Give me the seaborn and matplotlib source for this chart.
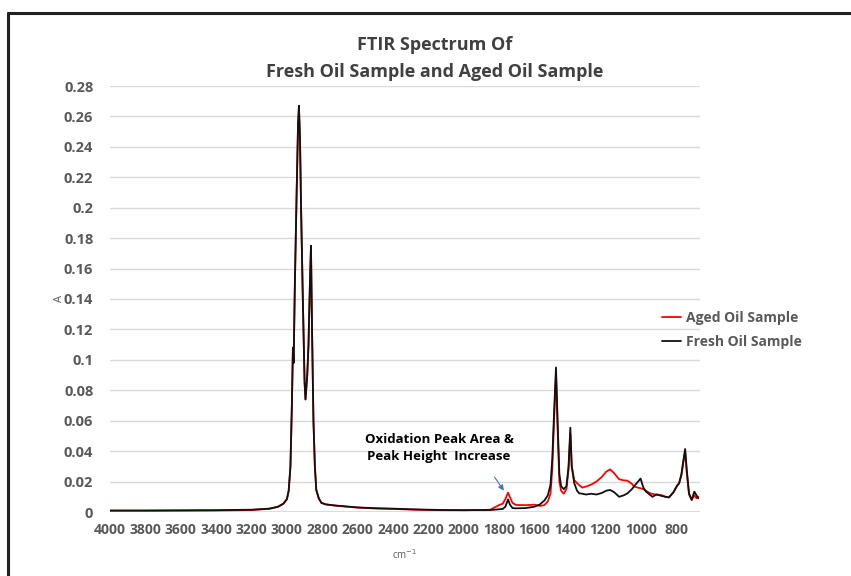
import numpy as np
import pandas as pd
import seaborn as sns
import matplotlib.pyplot as plt
from matplotlib.lines import Line2D

# wavenumbers (cm-1)
wavenumber = [4000, 3800, 3600, 3400, 3200, 3100, 3050, 3020, 3000, 2990, 2980, 2972,
              2966, 2962, 2955, 2945, 2937, 2932, 2926, 2920, 2910, 2900, 2895, 2885,
              2878, 2870, 2864, 2858, 2850, 2842, 2834, 2820, 2805, 2780, 2750, 2720,
              2700, 2650, 2600, 2500, 2400, 2300, 2200, 2100, 2000, 1900, 1850, 1800,
              1780, 1765, 1750, 1740, 1725, 1705, 1650, 1600, 1570, 1545, 1525, 1510,
              1500, 1490, 1479, 1470, 1460, 1450, 1435, 1420, 1408, 1398, 1390, 1376,
              1360, 1348, 1330, 1310, 1280, 1250, 1220, 1195, 1173, 1150, 1122, 1095,
              1075, 1050, 1037, 1015, 1001, 985, 971, 950, 934, 910, 880, 860,
              840, 815, 795, 783, 770, 760, 749, 740, 727, 712, 697, 685, 675]

fresh = [0.0010, 0.0010, 0.0011, 0.0012, 0.0015, 0.0022, 0.0035, 0.0055, 0.0085, 0.0140, 0.0300, 0.0700,
         0.1080, 0.0980, 0.1500, 0.2100, 0.2550, 0.2670, 0.2450, 0.2000, 0.1400, 0.0850, 0.0740, 0.0900,
         0.1100, 0.1500, 0.1750, 0.1200, 0.0600, 0.0300, 0.0145, 0.0090, 0.0060, 0.0050, 0.0046, 0.0042,
         0.0040, 0.0035, 0.0030, 0.0025, 0.0022, 0.0018, 0.0015, 0.0013, 0.0012, 0.0013, 0.0013, 0.0018,
         0.0020, 0.0035, 0.0083, 0.0050, 0.0026, 0.0024, 0.0026, 0.0035, 0.0050, 0.0075, 0.0110, 0.0180,
         0.0350, 0.0650, 0.0950, 0.0600, 0.0250, 0.0170, 0.0150, 0.0170, 0.0300, 0.0554, 0.0300, 0.0190,
         0.0140, 0.0123, 0.0120, 0.0115, 0.0120, 0.0115, 0.0125, 0.0140, 0.0145, 0.0130, 0.0100, 0.0110,
         0.0123, 0.0150, 0.0170, 0.0200, 0.0220, 0.0160, 0.0135, 0.0115, 0.0100, 0.0115, 0.0105, 0.0100,
         0.0095, 0.0130, 0.0170, 0.0189, 0.0250, 0.0330, 0.0414, 0.0280, 0.0123, 0.0079, 0.0134, 0.0110, 0.0090]

aged = [0.0008, 0.0008, 0.0009, 0.0010, 0.0013, 0.0021, 0.0034, 0.0054, 0.0084, 0.0139, 0.0300, 0.0700,
        0.1080, 0.0980, 0.1500, 0.2100, 0.2550, 0.2660, 0.2450, 0.2000, 0.1400, 0.0850, 0.0740, 0.0900,
        0.1100, 0.1500, 0.1740, 0.1200, 0.0600, 0.0300, 0.0145, 0.0090, 0.0060, 0.0050, 0.0045, 0.0041,
        0.0039, 0.0034, 0.0029, 0.0023, 0.0020, 0.0016, 0.0013, 0.0012, 0.0012, 0.0013, 0.0015, 0.0046,
        0.0055, 0.0085, 0.0127, 0.0100, 0.0060, 0.0046, 0.0045, 0.0048, 0.0040, 0.0045, 0.0070, 0.0120,
        0.0280, 0.0600, 0.0910, 0.0550, 0.0200, 0.0140, 0.0120, 0.0150, 0.0280, 0.0517, 0.0300, 0.0210,
        0.0190, 0.0177, 0.0160, 0.0167, 0.0180, 0.0200, 0.0230, 0.0265, 0.0280, 0.0255, 0.0215, 0.0208,
        0.0206, 0.0185, 0.0167, 0.0160, 0.0156, 0.0150, 0.0140, 0.0125, 0.0118, 0.0115, 0.0110, 0.0100,
        0.0098, 0.0130, 0.0175, 0.0189, 0.0240, 0.0320, 0.0396, 0.0260, 0.0115, 0.0079, 0.0110, 0.0090, 0.0100]

series_names = ["Aged Oil Sample", "Fresh Oil Sample"]
xticks = list(range(4000, 799, -200))
yticks = [0, 0.02, 0.04, 0.06, 0.08, 0.1, 0.12, 0.14, 0.16, 0.18, 0.2, 0.22, 0.24, 0.26, 0.28]

df = pd.concat([
    pd.DataFrame({"cm": wavenumber, "A": aged, "sample": series_names[0]}),
    pd.DataFrame({"cm": wavenumber, "A": fresh, "sample": series_names[1]}),
])

sns.set_style("white")
plt.rcParams["font.family"] = ["Open Sans", "DejaVu Sans"]
grey = "#595959"

fig = plt.figure(figsize=(8.51, 5.76), dpi=100)
ax = fig.add_axes([110 / 851, 1 - 512 / 576, 590 / 851, 426 / 576])

sns.lineplot(data=df, x="cm", y="A", hue="sample", hue_order=series_names,
             palette={series_names[0]: "#ff0000", series_names[1]: "#111111"},
             estimator=None, sort=True, linewidth=1.3, ax=ax)

ax.set_xlim(4000, 665)
ax.set_ylim(0, 0.28)
ax.set_xticks(xticks)
ax.set_xticklabels([str(t) for t in xticks])
ax.set_yticks(yticks)
ax.set_yticklabels([f"{t:g}" for t in yticks])
ax.yaxis.grid(True, color="#d9d9d9", linewidth=1.0)
ax.set_axisbelow(True)
for s in ax.spines.values():
    s.set_visible(False)
ax.axhline(0, color="#d9d9d9", linewidth=2, zorder=0)
ax.tick_params(axis="x", length=0, labelsize=10, labelcolor=grey, pad=8)
ax.tick_params(axis="y", length=0, labelsize=10.5, labelcolor=grey, pad=12)
for lab in ax.get_xticklabels() + ax.get_yticklabels():
    lab.set_fontweight("bold")

ax.set_xlabel("cm$^{-1}$", fontsize=7, color=grey, labelpad=8)
ax.set_ylabel("A", fontsize=8, color=grey)
ax.yaxis.set_label_coords(-0.076, 0.5)

ax.legend(loc="center left", bbox_to_anchor=(662 / 851, 1 - 330 / 576),
          bbox_transform=fig.transFigure, frameon=False, title=None,
          handlelength=1.4, handletextpad=0.3, labelspacing=0.75,
          borderaxespad=0, borderpad=0, prop={"weight": "bold", "size": 10})
for t in ax.get_legend().get_texts():
    t.set_color(grey)

fig.text(435 / 851, 1 - 45 / 576, "FTIR Spectrum Of", ha="center", va="center",
         fontsize=13, fontweight="bold", color="#404040")
fig.text(435 / 851, 1 - 72 / 576, "Fresh Oil Sample and Aged Oil Sample", ha="center",
         va="center", fontsize=13, fontweight="bold", color="#404040")

ax.text(2140, 0.0420, "Oxidation Peak Area &\nPeak Height  Increase", ha="center",
        va="center", fontsize=9.5, fontweight="bold", color="black", linespacing=1.45)
ax.annotate("", xy=(1765, 0.0125), xytext=(1835, 0.0245),
            arrowprops=dict(arrowstyle="-|>", color="#4472c4", lw=0.8, mutation_scale=8))

# outer frame
fig.add_artist(Line2D([8 / 851, 8 / 851], [0, 1 - 13 / 576], transform=fig.transFigure,
                      color="#222222", linewidth=2.2))
fig.add_artist(Line2D([8 / 851, 1], [1 - 13 / 576, 1 - 13 / 576], transform=fig.transFigure,
                      color="#222222", linewidth=2.2))

fig.savefig("out.png", dpi=100)
